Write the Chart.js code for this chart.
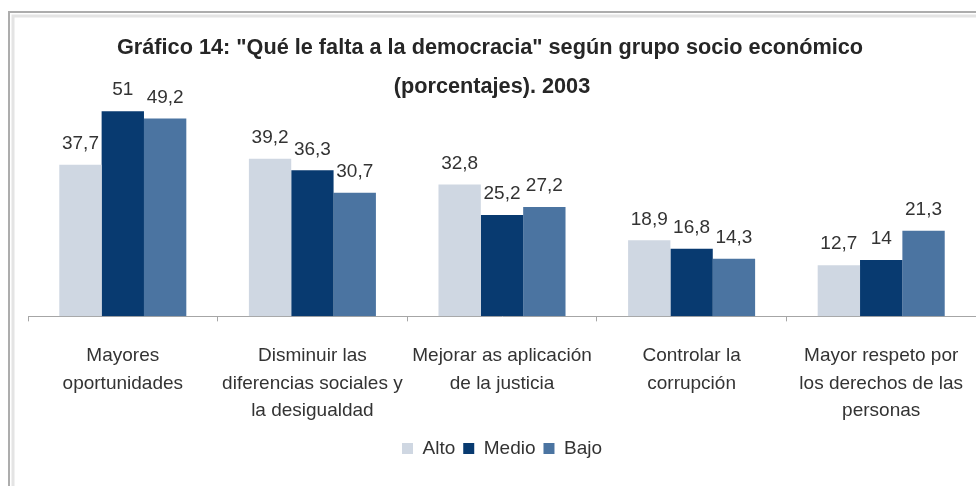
<!DOCTYPE html>
<html>
<head>
<meta charset="utf-8">
<script src="https://cdn.jsdelivr.net/npm/chart.js@4"></script>
<style>
  body { margin: 0; background: #fff; }
  #caja { width: 976px; height: 486px; position: relative; }
</style>
</head>
<body>
<div id="caja"><canvas id="grafico"></canvas></div>
<script>
const categorias = [
  ["Mayores", "oportunidades"],
  ["Disminuir las", "diferencias sociales y", "la desigualdad"],
  ["Mejorar as aplicación", "de la justicia"],
  ["Controlar la", "corrupción"],
  ["Mayor respeto por", "los derechos de las", "personas"],
];
const grupos = ["Alto", "Medio", "Bajo"];
const alto = [37.7, 39.2, 32.8, 18.9, 12.7];
const medio = [51, 36.3, 25.2, 16.8, 14];
const bajo = [49.2, 30.7, 27.2, 14.3, 21.3];
const colores = ["#cfd7e2", "#083a70", "#4b74a1"];
const titulo = [
  "Gráfico 14: \"Qué le falta a la democracia\" según grupo socio económico",
  "(porcentajes). 2003",
];

const fuente = "'Liberation Sans', Arial, sans-serif";

// marco gris arriba y a la izquierda
const marco = {
  id: "marco",
  beforeDraw(chart) {
    const ctx = chart.ctx;
    ctx.save();
    ctx.strokeStyle = "#e4e4e4";
    ctx.lineWidth = 3;
    ctx.beginPath();
    ctx.moveTo(13, chart.height);
    ctx.lineTo(13, 16);
    ctx.lineTo(chart.width, 16);
    ctx.stroke();
    ctx.strokeStyle = "#adadad";
    ctx.lineWidth = 2;
    ctx.beginPath();
    ctx.moveTo(9, chart.height);
    ctx.lineTo(9, 12);
    ctx.lineTo(chart.width, 12);
    ctx.stroke();
    ctx.restore();
  },
};

// titulo en dos lineas, encima del area de barras
const tituloPlugin = {
  id: "titulo",
  afterDraw(chart) {
    const ctx = chart.ctx;
    ctx.save();
    ctx.fillStyle = "#262626";
    ctx.font = "bold 21.7px " + fuente;
    ctx.textAlign = "center";
    ctx.textBaseline = "middle";
    ctx.fillText(titulo[0], 490, 48);
    ctx.fillText(titulo[1], 492, 87);
    ctx.restore();
  },
};

// valores encima de cada barra
const etiquetas = {
  id: "etiquetas",
  afterDatasetsDraw(chart) {
    const ctx = chart.ctx;
    ctx.save();
    ctx.fillStyle = "#333";
    ctx.font = "19px " + fuente;
    ctx.textAlign = "center";
    ctx.textBaseline = "middle";
    chart.data.datasets.forEach((ds, i) => {
      chart.getDatasetMeta(i).data.forEach((barra, j) => {
        const txt = String(ds.data[j]).replace(".", ",");
        ctx.fillText(txt, barra.x, barra.y - 21);
      });
    });
    ctx.restore();
  },
};

const data = {
  labels: categorias,
  datasets: [
    { label: grupos[0], data: alto, backgroundColor: colores[0] },
    { label: grupos[1], data: medio, backgroundColor: colores[1] },
    { label: grupos[2], data: bajo, backgroundColor: colores[2] },
  ],
};

const config = {
  type: "bar",
  data: data,
  options: {
    responsive: true,
    maintainAspectRatio: false,
    animation: false,
    layout: { padding: { top: 75, left: 28, right: 0, bottom: 18 } },
    datasets: {
      bar: { categoryPercentage: 0.67, barPercentage: 1.0, borderWidth: 0 },
    },
    plugins: {
      legend: {
        position: "bottom",
        labels: {
          color: "#333",
          font: { family: fuente, size: 19 },
          boxWidth: 11,
          boxHeight: 11,
          padding: 8,
        },
      },
      tooltip: { enabled: false },
    },
    scales: {
      x: {
        // eje mas bajo que lo que pide el texto, para bajar la linea base,
        // y sin margen lateral para que las categorias ocupen todo el ancho
        afterFit(scale) {
          scale.height -= 15;
          scale.paddingLeft = 0;
          scale.paddingRight = 0;
        },
        grid: {
          display: true,
          drawOnChartArea: false,
          drawTicks: true,
          tickLength: 5,
          color: "#a6a6a6",
        },
        border: { color: "#a6a6a6", width: 1 },
        ticks: {
          color: "#333",
          font: { family: fuente, size: 19, lineHeight: 1.45 },
          maxRotation: 0,
          autoSkip: false,
          padding: 21,
        },
      },
      y: {
        display: false,
        min: 0,
        max: 60,
      },
    },
  },
  plugins: [marco, tituloPlugin, etiquetas],
};

const grafico = new Chart(document.getElementById("grafico"), config);
</script>
</body>
</html>
